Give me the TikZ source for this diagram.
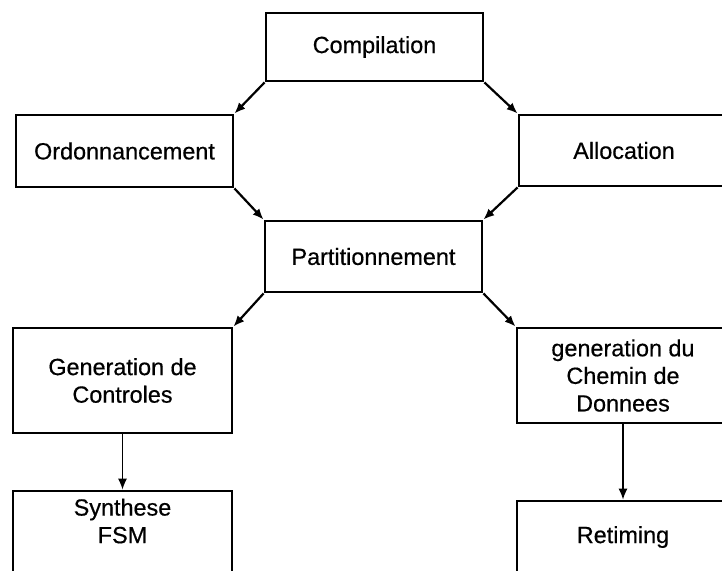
\documentclass[tikz,border=0pt]{standalone}
\usepackage{fontspec}
\setmainfont{Liberation Sans}
\newfontfamily\heavysans[FakeBold=0.5]{Liberation Sans}
\usetikzlibrary{arrows.meta}
\begin{document}
\begin{tikzpicture}[x=0.5pt,y=-0.5pt,
  txt/.style={font=\heavysans\fontsize{11.7}{13.8}\selectfont, align=center},
  box/.style={txt, draw, line width=1.4pt, rectangle, inner sep=0pt},
  flow/.style={line width=1.1pt, -{Latex[length=5.5pt,width=4.5pt]}},
  drop/.style={line width=0.7pt, -{Latex[length=5.5pt,width=4.5pt]}},
  caption/.style={txt, inner sep=0pt}]
\useasboundingbox (0,0) rectangle (722,570);

% top of the flow
\node[box, minimum width=108.5pt, minimum height=34pt] (comp) at (374.5,47) {Compilation};
\node[box, minimum width=108.5pt, minimum height=36pt] (ord) at (124.5,151) {Ordonnancement};
\node[box, minimum width=105pt, minimum height=35.5pt] (alloc) at (624,150.5) {Allocation};
\node[box, minimum width=108.5pt, minimum height=35.5pt] (part) at (373.5,256.5) {Partitionnement};

% the two branches
\node[box, minimum width=109.5pt, minimum height=52.5pt] (gen) at (122.5,380.5) {Generation de\\Controles};
\node[box, minimum width=106pt, minimum height=47.5pt] (chem) at (623,375.5) {generation du\\Chemin de\\Donnees};
\node[box, minimum width=109.5pt, minimum height=50pt] (synth) at (122.5,541) {};
\node[caption] (synthtext) at (122.5,521) {Synthese\\FSM};
\node[box, minimum width=106pt, minimum height=50pt] (retim) at (623,551) {};
\node[caption] (retimtext) at (623,537) {Retiming};

% connectors
\draw[flow] (comp.south west) -- (ord.north east);
\draw[flow] (comp.south east) -- (alloc.north west);
\draw[flow] (ord.south east) -- (part.north west);
\draw[flow] (alloc.south west) -- (part.north east);
\draw[flow] (part.south west) -- (gen.north east);
\draw[flow] (part.south east) -- (chem.north west);
\draw[drop] (gen.south) -- (synth.north);
\draw[drop] (chem.south) -- (retim.north);
\end{tikzpicture}
\end{document}
